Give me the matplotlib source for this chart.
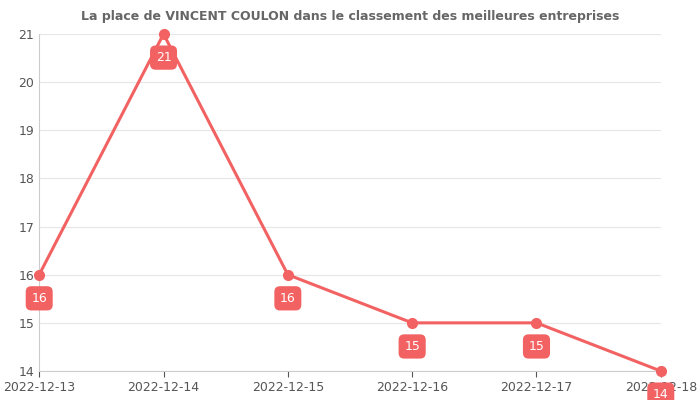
import matplotlib
matplotlib.use("Agg")
import matplotlib.pyplot as plt

dates = ["2022-12-13", "2022-12-14", "2022-12-15", "2022-12-16", "2022-12-17", "2022-12-18"]
ranks = [16, 21, 16, 15, 15, 14]

RED = "#f26262"

fig = plt.figure(figsize=(7, 4), dpi=100)
ax = fig.add_axes([0.056, 0.0725, 0.888, 0.8425])
x = list(range(len(dates)))
ax.plot(x, ranks, color=RED, lw=2.2, marker="o", ms=7, zorder=3, clip_on=False)
for xi, r in zip(x, ranks):
    ax.annotate(str(r), (xi, r), xytext=(0, -17), textcoords="offset points",
                ha="center", va="center", color="white", fontsize=9,
                bbox=dict(boxstyle="round,pad=0.45", fc=RED, ec="none"), zorder=4,
                annotation_clip=False)

ax.set_xlim(0, len(dates) - 1)
ax.set_ylim(14, 21)
ax.set_xticks(x)
ax.set_xticklabels(dates)
ax.set_yticks(range(14, 22))
ax.grid(axis="y", color="#e6e6e6", lw=0.8)
ax.set_axisbelow(True)
for s in ["top", "right"]:
    ax.spines[s].set_visible(False)
for s in ["left", "bottom"]:
    ax.spines[s].set_color("#cccccc")
ax.tick_params(colors="#555555", labelsize=9, length=4)
ax.tick_params(axis="y", length=0)
ax.set_title("La place de VINCENT COULON dans le classement des meilleures entreprises",
             fontsize=9, fontweight="bold", color="#666666", pad=10)

fig.savefig("out.png", dpi=100)
